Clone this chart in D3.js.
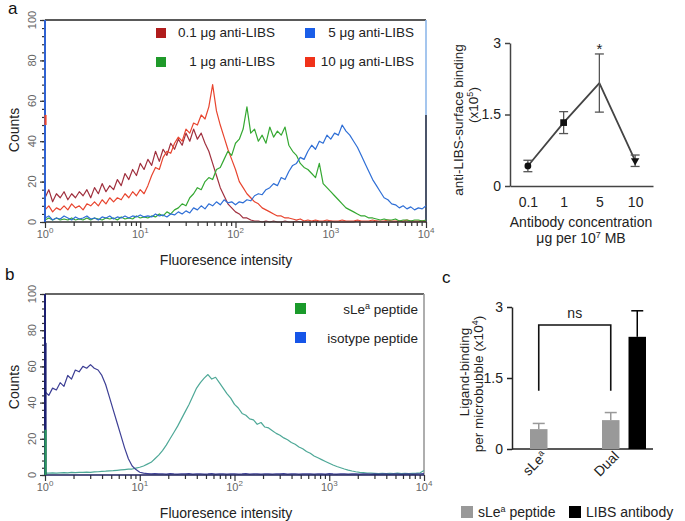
<!DOCTYPE html>
<html><head><meta charset="utf-8">
<script src="https://cdn.jsdelivr.net/npm/d3@7"></script>
<style>
body{margin:0;background:#fff}
svg{display:block}
text{font-family:"Liberation Sans",Arial,Helvetica,sans-serif}
</style>
</head><body>
<svg id="chart" width="685" height="521"></svg>
<script>
// ---------------- DATA ----------------
// Histogram channels span 10^0 .. 10^4 evenly on the log axis (101 channels)
const decadeTicks = [1, 10, 100, 1000, 10000];
const decadeExponents = ["0", "1", "2", "3", "4"];
const countTicks = [0, 20, 40, 60, 80, 100];

// Panel a histograms
const seriesNamesA = ["0.1 μg anti-LIBS", "5 μg anti-LIBS", "1 μg anti-LIBS", "10 μg anti-LIBS"];
const counts01 = [
 12,16,10,14,12,15,11,14,12,15,
 13,16,12,17,14,19,15,18,16,21,
 18,24,21,26,23,29,26,31,28,35,
 30,36,33,39,36,41,38,44,40,46,
 41,44,39,35,29,23,17,13,9,7,
 5,4,2,2,1,0.5,0.5,0,0.5,0,
 0.5,0,0,0.5,0,0,0.5,0,0,0,
 0,0.5,0,0,0,0.5,0,0,0,0,
 0,0,0.5,0,0,0,0,0.5,0,0,
 0,0,0,0.5,0,0,0,0,0,0.5,
 0];
const counts10 = [
 6,8,5,7,6,8,6,9,7,8,
 6,9,8,10,8,11,9,12,10,12,
 11,14,12,15,13,16,14,18,23,27,
 26,32,35,34,39,42,40,46,44,49,
 48,53,51,57,68,55,48,42,36,31,
 26,20,17,14,12,10,9,7,6,5,
 4,3,3,2,2,1.5,1,1.5,0.5,1,
 0.5,1,0.5,0.5,1,0.5,0.5,0.5,1,0.5,
 0.5,0.5,1,0.5,0.5,0.5,1,0.5,0.5,0.5,
 1,0.5,0.5,0.5,0.5,1,0.5,0.5,0.5,0.5,
 0.5];
const counts1 = [
 1,2,1,2,1,1.5,1,2,1,1.5,
 1,2,1,2,1.5,1,2,1.5,2,1,
 2.5,1.5,2,1.5,3,2,2.5,2,3,2.5,
 4,3,5,4,6,7,9,8,12,14,
 17,16,20,22,21,26,27,31,35,33,
 39,41,46,57,44,46,40,43,39,47,
 42,45,43,47,38,35,33,29,27,26,
 24,22,29,19,17,15,13,11,9,7,
 6,5,4,3,3,2,2,1.5,1,1.5,
 1,1,1.5,0.5,1,1,0.5,1,1,0.5,
 1];
const counts5 = [
 2,3,1,2,1.5,3,2,1,2.5,1.5,
 2,3,1.5,2,1,2.5,2,3,1.5,2.5,
 2,3,2,3,2.5,3.5,2.5,3,2.5,4,
 3,3.5,2.5,4,3.5,5,4,5.5,4.5,7,
 6,8,6.5,9,8,10,8.5,11,9.5,10,
 8.5,10,9.5,11,10.5,13,14,13.5,16,17,
 19,18,22,21,25,28,29,32,31,35,
 38,36,40,39,43,41,44,43,48,45,
 43,40,37,33,29,25,21,18,15,12,
 11,9,8.5,7,8,6.5,7.5,6,7,6.5,
 8];
const edgeCountRedA = 53;

// Panel b histograms
const seriesNamesB = ["sLe^a peptide", "isotype peptide"];
const countsIsotype = [
 46,44,48,47,51,49,55,53,58,57,
 60,59,61,59,58,55,50,43,36,29,
 22,15,9,5,3,1.5,1,0.8,0.6,0.8,
 0.6,0.7,0.5,0.8,0.6,0.5,0.7,0.6,0.8,0.5,
 0.6,0.7,0.5,0.6,0.8,0.5,0.6,0.7,0.5,0.6,
 0.7,0.5,0.6,0.8,0.5,0.7,0.6,0.5,0.7,0.6,
 0.5,0.7,0.6,0.8,0.5,0.6,0.7,0.5,0.6,0.7,
 0.6,0.5,0.7,0.6,0.5,0.8,0.6,0.5,0.7,0.6,
 0.5,0.6,0.7,0.5,0.6,0.7,0.5,0.6,0.5,0.7,
 0.6,0.5,0.7,0.6,0.5,0.6,0.7,0.5,0.6,0.7,
 0.8];
const countsSLe = [
 1,1,1.2,1,1.2,1.3,1.2,1.4,1.3,1.5,
 1.4,1.6,1.5,1.7,1.8,2,2.1,2.3,2.4,2.6,
 2.8,3,3.2,3.3,3.8,4.3,5,6,7,9,
 11,13.5,16.5,20,23.5,27,31,35,39,43.5,
 48,51,53.5,55.5,53,54,51,48,45,42.5,
 39,37,34,33,31,30.5,28,29,26.5,26,
 24.5,23,22,20.5,19.5,18,17,15.5,14.5,13,
 12,10.5,9.5,8.5,7.5,6.5,5.5,4.7,4,3.3,
 2.7,2.2,1.8,1.5,1.3,1.1,1,0.9,0.8,0.9,
 0.8,0.9,0.8,1,0.8,0.9,0.8,0.9,1,1.2,
 2.5];
const edgeCountIsotype = 73;
const edgeCountSLe = 25;

// Panel a (right): binding vs antibody concentration
const concCategories = ["0.1", "1", "5", "10"];
const bindingMean = [0.42, 1.33, 2.16, 0.53];
const bindingErr = [0.12, 0.23, 0.61, 0.12];
const bindingTicks = [0, 1.5, 3];

// Panel c: ligand binding bars
const ligandGroups = ["sLe^a", "Dual"];
const ligandSeries = ["sLe^a peptide", "LIBS antibody"];
const peptideMean = [0.42, 0.61];
const peptideErr = [0.12, 0.16];
const antibodyMean = [null, 2.37];
const antibodyErr = [null, 0.55];
const ligandTicks = [0, 1.5, 3];

// ---------------- DRAWING ----------------
const svg = d3.select("#chart");

function supText(sel, label, supSize) {
  const parts = label.split("^");
  sel.text(null);
  sel.append("tspan").text(parts[0]);
  if (parts.length > 1) {
    const rest = parts[1].split(" ");
    sel.append("tspan").attr("font-size", supSize).attr("baseline-shift", "super").text(rest[0]);
    if (rest.length > 1) sel.append("tspan").text(" " + rest.slice(1).join(" "));
  }
}

function histPanel(cfg) {
  const g = svg.append("g");
  const x = d3.scaleLog().domain([1, 1e4]).range(cfg.xr);
  const y = d3.scaleLinear().domain([0, 100]).range(cfg.yr);
  const chanX = (arr, i) => x(Math.pow(10, 4 * i / (arr.length - 1)));

  // frame top and right
  g.append("line").attr("x1", cfg.xr[0]).attr("x2", cfg.xr[1])
    .attr("y1", y(100)).attr("y2", y(100)).attr("stroke", cfg.topColor).attr("stroke-width", 1.5);
  cfg.rightSegs.forEach(s => g.append("line").attr("x1", cfg.xr[1]).attr("x2", cfg.xr[1])
    .attr("y1", y(s[0])).attr("y2", y(s[1])).attr("stroke", s[2]).attr("stroke-width", 1.6));

  // series
  cfg.series.forEach(s => {
    const line = d3.line().x((d, i) => chanX(s.values, i)).y(d => y(d));
    g.append("path").attr("d", line(s.values)).attr("fill", "none")
      .attr("stroke", s.color).attr("stroke-width", 1.2).attr("stroke-linejoin", "round");
  });

  // axis ticks
  const isDecade = v => Math.abs(Math.log10(v) - Math.round(Math.log10(v))) < 1e-9;
  const xMinor = x.ticks().filter(v => !isDecade(v));
  const tickCol = "#333";
  const gx1 = g.append("g").attr("transform", `translate(0,${y(0)})`)
    .call(d3.axisBottom(x).tickValues(decadeTicks).tickSize(6).tickFormat(""));
  const gx2 = g.append("g").attr("transform", `translate(0,${y(0)})`)
    .call(d3.axisBottom(x).tickValues(xMinor).tickSize(4).tickFormat(""));
  const gy1 = g.append("g").attr("transform", `translate(${cfg.xr[0]},0)`)
    .call(d3.axisLeft(y).tickValues(countTicks).tickSize(5).tickFormat(""));
  const gy2 = g.append("g").attr("transform", `translate(${cfg.xr[0]},0)`)
    .call(d3.axisLeft(y).tickValues(d3.range(0, 101, 4)).tickSize(3).tickFormat(""));
  [gx1, gx2, gy1, gy2].forEach(a => {
    a.select(".domain").remove();
    a.selectAll("line").attr("stroke", tickCol).attr("stroke-width", 1.2);
  });

  // axis lines
  g.append("line").attr("x1", cfg.xr[0]).attr("x2", cfg.xr[1]).attr("y1", y(0)).attr("y2", y(0))
    .attr("stroke", cfg.bottomColor).attr("stroke-width", 1.6);
  g.append("line").attr("x1", cfg.xr[0]).attr("x2", cfg.xr[0]).attr("y1", y(0)).attr("y2", y(100))
    .attr("stroke", cfg.leftColor).attr("stroke-width", 2);
  cfg.edges.forEach(e => g.append("line").attr("x1", cfg.xr[0] + 0.5).attr("x2", cfg.xr[0] + 0.5)
    .attr("y1", y(e.lo)).attr("y2", y(e.hi)).attr("stroke", e.color).attr("stroke-width", 2.2));

  // tick labels
  decadeTicks.forEach((v, i) => {
    const t = g.append("text").attr("x", x(v)).attr("y", y(0) + 16).attr("text-anchor", "middle")
      .attr("font-size", 11).attr("fill", "#666");
    t.append("tspan").text("10");
    t.append("tspan").attr("font-size", 8).attr("dy", -5).text(decadeExponents[i]);
  });
  countTicks.forEach(v => {
    g.append("text").attr("transform", `translate(${cfg.xr[0] - 9},${y(v)}) rotate(-90)`)
      .attr("text-anchor", "middle").attr("font-size", 11).attr("fill", "#666").text(v);
  });

  // titles
  g.append("text").attr("transform", `translate(19,${cfg.countsY}) rotate(-90)`)
    .attr("text-anchor", "middle").attr("font-size", 14).attr("fill", "#222").text("Counts");
  g.append("text").attr("x", 226).attr("y", cfg.titleY).attr("text-anchor", "middle")
    .attr("font-size", 14).attr("fill", "#222").text("Fluoresence intensity");
  return g;
}

// Panel a histogram
histPanel({
  xr: [45, 426], yr: [222, 20], topColor: "#222", bottomColor: "#333", leftColor: "#2f62d2",
  rightSegs: [[100, 53, "#8fb8ea"], [53, 0, "#1e2a44"]],
  series: [
    {values: counts01, color: "#a0303e"},
    {values: counts10, color: "#e8452f"},
    {values: counts1, color: "#35a832"},
    {values: counts5, color: "#2f6fd6"}
  ],
  edges: [{lo: 48, hi: edgeCountRedA, color: "#e8452f"}],
  countsY: 130, titleY: 265
});
// legend a
const legendA = [
  {name: seriesNamesA[0], color: "#b01c1c", sx: 156, tx: 275, sy: 28},
  {name: seriesNamesA[1], color: "#1a5ee8", sx: 305, tx: 414, sy: 28},
  {name: seriesNamesA[2], color: "#1f9a2a", sx: 156, tx: 275, sy: 57},
  {name: seriesNamesA[3], color: "#f0321a", sx: 305, tx: 414, sy: 57}
];
legendA.forEach(l => {
  svg.append("rect").attr("x", l.sx).attr("y", l.sy).attr("width", 10).attr("height", 10).attr("fill", l.color);
  svg.append("text").attr("x", l.tx).attr("y", l.sy + 9).attr("text-anchor", "end")
    .attr("font-size", 13.5).attr("fill", "#222").text(l.name);
});

// Panel b histogram
histPanel({
  xr: [45, 424], yr: [475, 294], topColor: "#333", bottomColor: "#1c1f5a", leftColor: "#1c1f70",
  rightSegs: [[100, 0, "#9a9a9a"]],
  series: [
    {values: countsSLe, color: "#4ea897"},
    {values: countsIsotype, color: "#3d3f95"}
  ],
  edges: [{lo: 0, hi: edgeCountIsotype, color: "#1c1f70"}, {lo: 0, hi: edgeCountSLe, color: "#2a9a5a"}],
  countsY: 387, titleY: 518
});
const legendB = [
  {name: seriesNamesB[0], color: "#1a9a2a", sy: 303},
  {name: seriesNamesB[1], color: "#1655e8", sy: 332}
];
legendB.forEach(l => {
  svg.append("rect").attr("x", 295).attr("y", l.sy).attr("width", 11).attr("height", 11).attr("fill", l.color);
  const t = svg.append("text").attr("x", 418).attr("y", l.sy + 11).attr("text-anchor", "end")
    .attr("font-size", 13.5).attr("fill", "#222");
  supText(t, l.name, 9);
});

// Panel a right: line chart
{
  const g = svg.append("g");
  const x = d3.scalePoint().domain(concCategories).range([510, 653]).padding(0.5);
  const y = d3.scaleLinear().domain([0, 3]).range([186, 43]);
  const col = "#444";
  const gy = g.append("g").attr("transform", "translate(510,0)")
    .call(d3.axisLeft(y).tickValues(bindingTicks).tickSize(5).tickSizeOuter(0).tickPadding(4)
      .tickFormat(d => d));
  gy.select(".domain").attr("stroke", col).attr("stroke-width", 1.5);
  gy.selectAll(".tick line").attr("stroke", col).attr("stroke-width", 1.5);
  gy.selectAll("text").attr("font-size", 14).attr("fill", "#222")
    .style("font-family", '"Liberation Sans", Arial, sans-serif');
  const gx = g.append("g").attr("transform", "translate(0,186)")
    .call(d3.axisBottom(x).tickSize(0).tickPadding(11).tickSizeOuter(0));
  gx.select(".domain").attr("stroke", col).attr("stroke-width", 1.5);
  gx.selectAll("text").attr("font-size", 14).attr("fill", "#222")
    .style("font-family", '"Liberation Sans", Arial, sans-serif');

  const pts = concCategories.map((c, i) => ({c, m: bindingMean[i], e: bindingErr[i]}));
  g.append("path").attr("d", d3.line().x(d => x(d.c)).y(d => y(d.m))(pts))
    .attr("fill", "none").attr("stroke", col).attr("stroke-width", 1.8);
  pts.forEach(d => {
    const cx = x(d.c);
    g.append("line").attr("x1", cx).attr("x2", cx).attr("y1", y(d.m - d.e)).attr("y2", y(d.m + d.e))
      .attr("stroke", "#555").attr("stroke-width", 1.3);
    [d.m - d.e, d.m + d.e].forEach(v => g.append("line").attr("x1", cx - 4.5).attr("x2", cx + 4.5)
      .attr("y1", y(v)).attr("y2", y(v)).attr("stroke", "#555").attr("stroke-width", 1.3));
  });
  const shapes = [d3.symbolCircle, d3.symbolSquare, null, d3.symbolTriangle];
  const sizes = [36, 45, 0, 30];
  pts.forEach((d, i) => {
    if (!shapes[i]) return;
    g.append("path").attr("d", d3.symbol().type(shapes[i]).size(sizes[i])())
      .attr("transform", `translate(${x(d.c)},${y(d.m)})${i === 3 ? " rotate(180)" : ""}`)
      .attr("fill", "#111");
  });
  g.append("text").attr("x", x("5")).attr("y", 54).attr("text-anchor", "middle")
    .attr("font-size", 15).attr("fill", "#222").text("*");
  g.append("text").attr("transform", "translate(463,120) rotate(-90)").attr("text-anchor", "middle")
    .attr("font-size", 13.5).attr("fill", "#222").text("anti-LIBS-surface binding");
  const t5 = g.append("text").attr("transform", "translate(478,105) rotate(-90)").attr("text-anchor", "middle")
    .attr("font-size", 13.5).attr("fill", "#222");
  t5.append("tspan").text("(x10");
  t5.append("tspan").attr("font-size", 9).attr("baseline-shift", "super").text("5");
  t5.append("tspan").text(")");
  g.append("text").attr("x", 581).attr("y", 227).attr("text-anchor", "middle")
    .attr("font-size", 14).attr("fill", "#222").text("Antibody concentration");
  const tu = g.append("text").attr("x", 581).attr("y", 243).attr("text-anchor", "middle")
    .attr("font-size", 14).attr("fill", "#222");
  tu.append("tspan").text("μg per 10");
  tu.append("tspan").attr("font-size", 9).attr("baseline-shift", "super").text("7");
  tu.append("tspan").text(" MB");
}

// Panel c: bar chart
{
  const g = svg.append("g");
  const x0 = d3.scaleBand().domain(ligandGroups).range([530, 646]).paddingInner(28 / 72).paddingOuter(0);
  const x1 = d3.scaleBand().domain(ligandSeries).range([0, x0.bandwidth()]).paddingInner(0.34);
  const y = d3.scaleLinear().domain([0, 3]).range([449, 307]);
  const col = "#222";
  const gy = g.append("g").attr("transform", "translate(512,0)")
    .call(d3.axisLeft(y).tickValues(ligandTicks).tickSize(5).tickSizeOuter(0).tickPadding(4).tickFormat(d => d));
  gy.select(".domain").attr("stroke", col).attr("stroke-width", 1.5);
  gy.selectAll(".tick line").attr("stroke", col).attr("stroke-width", 1.5);
  gy.selectAll("text").attr("font-size", 14).attr("fill", "#222")
    .style("font-family", '"Liberation Sans", Arial, sans-serif');
  g.append("line").attr("x1", 512).attr("x2", 653).attr("y1", y(0)).attr("y2", y(0))
    .attr("stroke", col).attr("stroke-width", 1.5);

  const colors = ["#999999", "#000000"];
  const means = [peptideMean, antibodyMean];
  const errs = [peptideErr, antibodyErr];
  ligandGroups.forEach((grp, gi) => {
    ligandSeries.forEach((s, si) => {
      const m = means[si][gi];
      if (m == null) return;
      const bx = x0(grp) + x1(s), bw = x1.bandwidth();
      g.append("rect").attr("x", bx).attr("y", y(m)).attr("width", bw).attr("height", y(0) - y(m))
        .attr("fill", colors[si]);
      const cx = bx + bw / 2, top = m + errs[si][gi];
      g.append("line").attr("x1", cx).attr("x2", cx).attr("y1", y(m)).attr("y2", y(top))
        .attr("stroke", colors[si]).attr("stroke-width", 1.5);
      g.append("line").attr("x1", cx - 6).attr("x2", cx + 6).attr("y1", y(top)).attr("y2", y(top))
        .attr("stroke", colors[si]).attr("stroke-width", 1.5);
    });
    const lt = g.append("text")
      .attr("transform", `translate(${x0(grp) + x0.bandwidth() / 2 - 4},${y(0) + 8}) rotate(-45)`)
      .attr("text-anchor", "end").attr("font-size", 14).attr("fill", "#222");
    supText(lt, grp, 9);
  });
  // significance bracket between peptide bars
  const bxA = x0(ligandGroups[0]) + x1(ligandSeries[0]) + x1.bandwidth() / 2;
  const bxB = x0(ligandGroups[1]) + x1(ligandSeries[0]) + x1.bandwidth() / 2;
  g.append("path").attr("d", `M${bxA},${y(1.23)}V${y(2.62)}H${bxB}V${y(1.23)}`)
    .attr("fill", "none").attr("stroke", "#111").attr("stroke-width", 1.6);
  g.append("text").attr("x", (bxA + bxB) / 2).attr("y", 318).attr("text-anchor", "middle")
    .attr("font-size", 14).attr("fill", "#222").text("ns");
  // y title
  g.append("text").attr("transform", "translate(469,372) rotate(-90)").attr("text-anchor", "middle")
    .attr("font-size", 13.5).attr("fill", "#222").text("Ligand-binding");
  const t4 = g.append("text").attr("transform", "translate(483,384) rotate(-90)").attr("text-anchor", "middle")
    .attr("font-size", 13.5).attr("fill", "#222");
  t4.append("tspan").text("per microbubble (x10");
  t4.append("tspan").attr("font-size", 9).attr("baseline-shift", "super").text("4");
  t4.append("tspan").text(")");
  // legend
  [[461, 0], [569, 1]].forEach(([lx, si]) => {
    g.append("rect").attr("x", lx).attr("y", 506).attr("width", 12).attr("height", 12).attr("fill", colors[si]);
    const t = g.append("text").attr("x", lx + 17).attr("y", 517).attr("font-size", 14).attr("fill", "#222");
    supText(t, ligandSeries[si], 9);
  });
}

// panel letters
[["a", 8, 14], ["b", 5, 280], ["c", 442, 283]].forEach(([l, lx, ly]) => {
  svg.append("text").attr("x", lx).attr("y", ly).attr("font-size", 17).attr("fill", "#111").text(l);
});
</script>
</body></html>
